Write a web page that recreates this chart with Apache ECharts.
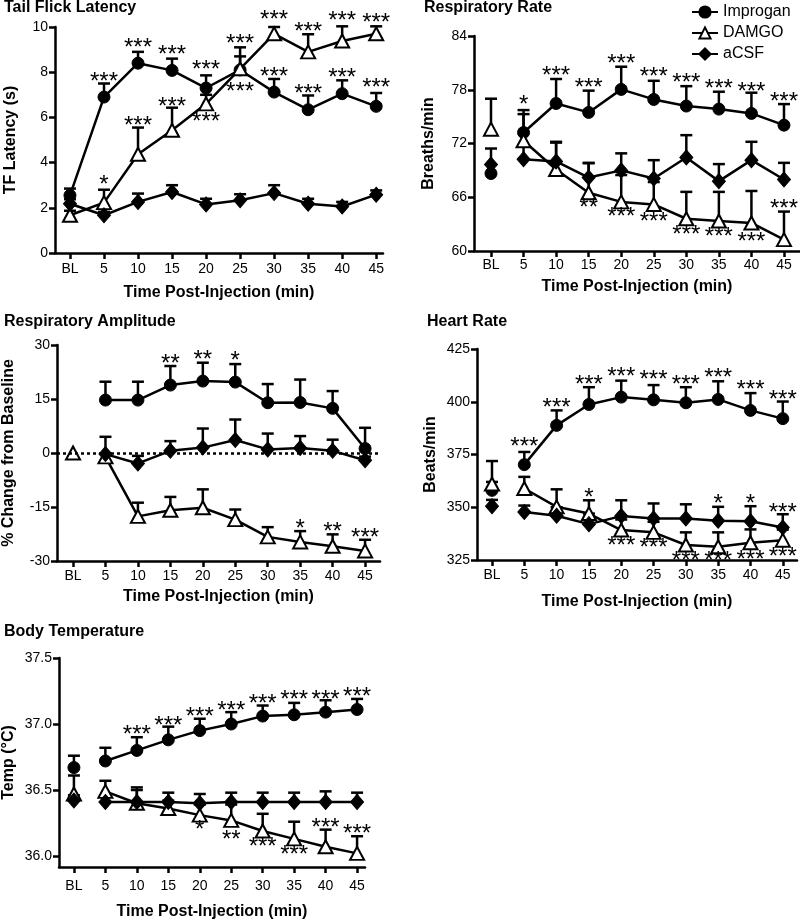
<!DOCTYPE html>
<html><head><meta charset="utf-8">
<script src="https://cdn.jsdelivr.net/npm/echarts@6/dist/echarts.min.js"></script>
<style>html,body{margin:0;padding:0;background:#fff}#c{width:800px;height:921px}</style>
</head><body><div id="c"></div>
<script>
// ---------- data ----------
const xLabels = ['BL','5','10','15','20','25','30','35','40','45'];
const xValues = [0,5,10,15,20,25,30,35,40,45];
const seriesNames = ['Improgan','DAMGO','aCSF'];

// Tail flick latency (s)
const tfTicks = [0,2,4,6,8,10];
const tfImprogan    = [2.55,6.9,8.4,8.08,7.3,8.1,7.12,6.34,7.05,6.49];
const tfImproganSem = [0.3,0.6,0.5,0.52,0.56,0.6,0.58,0.63,0.59,0.59];
const tfDamgo       = [1.67,2.23,4.37,5.43,6.6,8.15,9.7,8.9,9.38,9.7];
const tfDamgoSem    = [0.2,0.57,1.18,1.0,0.4,0.95,0.3,0.78,0.65,0.33];
const tfAcsf        = [2.18,1.67,2.26,2.7,2.15,2.33,2.65,2.18,2.06,2.58];
const tfAcsfSem     = [0.2,0.15,0.37,0.3,0.25,0.27,0.35,0.22,0.2,0.19];
const tfStars = [[5,7.76,'***'],[10,9.26,'***'],[15,8.97,'***'],[20,8.3,'***'],[25,9.44,'***'],[25,7.32,'***'],
  [30,8.0,'***'],[30,10.5,'***'],[35,7.23,'***'],[35,10.0,'***'],[40,7.96,'***'],[40,10.47,'***'],
  [45,7.49,'***'],[45,10.37,'***'],[5,3.2,'*'],[10,5.84,'***'],[15,6.68,'***'],[20,6.02,'***']];

// Respiratory rate (breaths/min)
const rrTicks = [60,66,72,78,84];
const rrImprogan    = [68.65,73.23,76.47,75.47,78.04,76.92,76.18,75.84,75.36,74.05];
const rrImproganSem = [1.0,2.05,2.73,2.43,2.53,2.08,2.22,1.94,2.31,2.35];
const rrDamgo       = [73.6,72.3,69.1,66.5,65.48,65.2,63.6,63.35,63.13,61.27];
const rrDamgoSem    = [3.4,3.43,3.0,3.3,3.0,2.5,3.0,3.25,3.57,3.13];
const rrAcsf        = [69.65,70.25,70.0,68.2,69.0,68.09,70.44,67.8,70.14,67.98];
const rrAcsfSem     = [1.79,1.5,2.19,1.64,1.9,2.05,2.49,1.9,2.05,1.86];
const rrStars = [[5,76.85,'*'],[10,80.0,'***'],[15,78.7,'***'],[20,81.4,'***'],[25,79.9,'***'],[30,79.27,'***'],
  [35,78.6,'***'],[40,78.3,'***'],[45,77.15,'***'],[15,65.3,'**'],[20,64.36,'***'],[25,63.8,'***'],
  [30,62.3,'***'],[35,62.05,'***'],[40,61.5,'***'],[45,65.2,'***']];

// Respiratory amplitude (% change from baseline)
const raTicks = [-30,-15,0,15,30];
const raImprogan    = [null,14.7,14.7,18.87,19.98,19.7,13.95,14.04,12.4,1.24];
const raImproganSem = [null,5.1,5.1,5.29,5.1,5.0,5.2,6.36,4.8,5.76];
const raDamgo       = [0,-1.08,-17.6,-15.9,-15.2,-18.5,-23.3,-24.7,-25.9,-27.2];
const raDamgoSem    = [0,1.0,3.8,3.7,5.1,2.8,2.7,3.0,3.3,3.1];
const raAcsf        = [null,-0.3,-2.9,0.6,1.5,3.6,1.0,1.4,0.6,-2.0];
const raAcsfSem     = [null,4.8,2.1,2.7,5.3,5.7,4.4,3.3,3.1,1.0];
const raStars = [[15,26.0,'**'],[20,27.2,'**'],[25,26.75,'*'],[35,-19.8,'*'],[40,-20.6,'**'],[45,-22.2,'***']];

// Heart rate (beats/min)
const hrTicks = [325,350,375,400,425];
const hrImprogan    = [358,370.2,388.8,398.7,402.2,400.9,399.5,401.1,395.9,392.0];
const hrImproganSem = [4,6.0,7.1,8.2,7.8,7.0,7.4,8.6,8.2,8.1];
const hrDamgo       = [361,358.9,350.2,347.0,339.2,338.1,332.1,331.3,333.2,334.4];
const hrDamgoSem    = [10.9,5.5,8.3,6.3,5,5,6.0,6.8,6.3,5];
const hrAcsf        = [350.5,347.8,346.0,342.0,345.8,344.7,344.7,343.6,343.4,340.4];
const hrAcsfSem     = [3,3,4,5,7.5,7.1,6.7,6.6,7.1,6.3];
const hrStars = [[5,380.9,'***'],[10,399.3,'***'],[15,410.0,'***'],[20,414.0,'***'],[25,412.4,'***'],
  [30,410.0,'***'],[35,413.5,'***'],[40,407.7,'***'],[45,403.0,'***'],[15,356.8,'*'],[35,353.7,'*'],
  [40,353.7,'*'],[45,349.4,'***'],[20,333.7,'***'],[25,332.9,'***'],[30,326.9,'***'],[35,326.6,'***'],
  [40,327.4,'***'],[45,328.6,'***']];

// Body temperature (°C)
const btTicks = [36.0,36.5,37.0,37.5];
const btImprogan    = [36.67,36.72,36.80,36.88,36.95,37.0,37.06,37.07,37.09,37.11];
const btImproganSem = [0.09,0.1,0.1,0.1,0.09,0.09,0.08,0.09,0.09,0.08];
const btDamgo       = [36.47,36.49,36.40,36.36,36.31,36.27,36.19,36.13,36.07,36.02];
const btDamgoSem    = [0.14,0.08,0.12,0.06,0.08,0.12,0.13,0.13,0.13,0.13];
const btAcsf        = [36.42,36.41,36.41,36.41,36.40,36.41,36.41,36.41,36.41,36.41];
const btAcsfSem     = [0.04,0.05,0.09,0.07,0.07,0.07,0.07,0.07,0.08,0.07];
const btStars = [[10,36.95,'***'],[15,37.02,'***'],[20,37.09,'***'],[25,37.13,'***'],[30,37.19,'***'],
  [35,37.22,'***'],[40,37.22,'***'],[45,37.24,'***'],[20,36.23,'*'],[25,36.16,'**'],[30,36.1,'***'],
  [35,36.04,'***'],[40,36.25,'***'],[45,36.2,'***']];

// ---------- layout ----------
const FONT = '"Liberation Sans", Arial, Helvetica, sans-serif';
const panels = [
  {title:'Tail Flick Latency', yName:'TF Latency (s)', titlePos:[4,0],
   grid:{left:55,top:27,width:328,height:226}, xr:[-2.2,46.0], yr:[0,10], ticks:tfTicks, dec:0,
   groups:[[tfImprogan,tfImproganSem],[tfDamgo,tfDamgoSem],[tfAcsf,tfAcsfSem]], stars:tfStars,
   connectBL:true, nameGapX:32, nameGapY:36, labelMarginX:9},
  {title:'Respiratory Rate', yName:'Breaths/min', titlePos:[424,0],
   grid:{left:474,top:36,width:326,height:215}, xr:[-2.61,47.46], yr:[60,84], ticks:rrTicks, dec:0,
   groups:[[rrImprogan,rrImproganSem],[rrDamgo,rrDamgoSem],[rrAcsf,rrAcsfSem]], stars:rrStars,
   connectBL:false, nameGapX:28, nameGapY:37, labelMarginX:7},
  {title:'Respiratory Amplitude', yName:'% Change from Baseline', titlePos:[4,314],
   grid:{left:57,top:345,width:323,height:216}, xr:[-2.47,47.3], yr:[-30,30], ticks:raTicks, dec:0,
   groups:[[raImprogan,raImproganSem],[raDamgo,raDamgoSem],[raAcsf,raAcsfSem]], stars:raStars,
   connectBL:false, nameGapX:28, nameGapY:40, labelMarginX:8, zeroLine:true},
  {title:'Heart Rate', yName:'Beats/min', titlePos:[427,314],
   grid:{left:477,top:349,width:320,height:211}, xr:[-2.32,47.2], yr:[325,425], ticks:hrTicks, dec:0,
   groups:[[hrImprogan,hrImproganSem],[hrDamgo,hrDamgoSem],[hrAcsf,hrAcsfSem]], stars:hrStars,
   connectBL:false, nameGapX:34, nameGapY:38, labelMarginX:8},
  {title:'Body Temperature', yName:'Temp (°C)', titlePos:[4,624],
   grid:{left:57,top:658,width:308,height:210}, xr:[-2.37,46.26], yr:[35.917,37.5], ticks:btTicks, dec:1,
   groups:[[btImprogan,btImproganSem],[btDamgo,btDamgoSem],[btAcsf,btAcsfSem]], stars:btStars,
   connectBL:false, nameGapX:37, nameGapY:42, labelMarginX:12}
];

const symbols = [
  {symbol:'circle', size:12, itemStyle:{color:'#000', borderColor:'#000', borderWidth:1, opacity:1}},
  {symbol:'triangle', size:[14,13], itemStyle:{color:'#fff', borderColor:'#000', borderWidth:2, opacity:1}},
  {symbol:'diamond', size:[13,15], itemStyle:{color:'#000', borderColor:'#000', borderWidth:1, opacity:1}}
];

const LW = 2.5;
const option = {
  animation:false,
  backgroundColor:'#fff',
  title: panels.map(p => ({text:p.title, left:p.titlePos[0], top:p.titlePos[1], padding:0,
    textStyle:{fontSize:16, fontWeight:'bold', fontFamily:FONT, color:'#000'}})),
  legend:{orient:'vertical', left:686, top:-1, itemWidth:26, itemHeight:14, itemGap:5,
    data:seriesNames, textStyle:{fontSize:16, fontFamily:FONT, color:'#000'}},
  grid: panels.map(p => p.grid),
  xAxis: panels.map((p,i) => ({type:'value', gridIndex:i, min:p.xr[0], max:p.xr[1],
    name:'Time Post-Injection (min)', nameLocation:'middle', nameGap:p.nameGapX,
    nameTextStyle:{fontSize:16, fontWeight:'bold', fontFamily:FONT, color:'#000'},
    splitLine:{show:false},
    axisLine:{show:true, onZero:false, lineStyle:{color:'#000', width:LW}},
    axisTick:{show:true, length:6, customValues:xValues, lineStyle:{color:'#000', width:LW}},
    axisLabel:{customValues:xValues, margin:p.labelMarginX, fontSize:14, fontFamily:FONT, color:'#000',
      formatter:v => { const k = xValues.indexOf(v); return k >= 0 ? xLabels[k] : ''; }}})),
  yAxis: panels.map((p,i) => ({type:'value', gridIndex:i, min:p.yr[0], max:p.yr[1],
    name:p.yName, nameLocation:'middle', nameGap:p.nameGapY,
    nameTextStyle:{fontSize:16, fontWeight:'bold', fontFamily:FONT, color:'#000'},
    splitLine:{show:false},
    axisLine:{show:true, onZero:false, lineStyle:{color:'#000', width:LW}},
    axisTick:{show:true, length:6, customValues:p.ticks, lineStyle:{color:'#000', width:LW}},
    axisLabel:{customValues:p.ticks, margin:7, fontSize:14, fontFamily:FONT, color:'#000',
      formatter:v => v.toFixed(p.dec)}})),
  series:[]
};

panels.forEach((p, pi) => {
  p.groups.forEach((g, gi) => {
    const [means, sems] = g;
    const errData = [];
    means.forEach((m, k) => { if (m != null && sems[k]) errData.push([xValues[k], m, m + sems[k]]); });
    option.series.push({type:'custom', name:seriesNames[gi]+' SEM', xAxisIndex:pi, yAxisIndex:pi, z:2,
      silent:true, data:errData, encode:{x:0, y:[1,2]},
      renderItem:(params, api) => {
        const a = api.coord([api.value(0), api.value(1)]);
        const b = api.coord([api.value(0), api.value(2)]);
        return {type:'group', children:[
          {type:'line', shape:{x1:a[0], y1:a[1], x2:b[0], y2:b[1]}, style:{stroke:'#000', lineWidth:LW}},
          {type:'line', shape:{x1:b[0]-6, y1:b[1], x2:b[0]+6, y2:b[1]}, style:{stroke:'#000', lineWidth:LW}}
        ]};
      }});
  });
  p.groups.forEach((g, gi) => {
    const [means] = g;
    const sym = symbols[gi];
    const pts = means.map((m, k) => [xValues[k], m]);
    const lineData = (p.connectBL ? pts : pts.slice(1)).filter(d => d[1] != null);
    const s = {type:'line', name:seriesNames[gi], xAxisIndex:pi, yAxisIndex:pi, z:3,
      data:lineData, symbol:sym.symbol, symbolSize:sym.size, showSymbol:true, showAllSymbol:true,
      itemStyle:sym.itemStyle, lineStyle:{color:'#000', width:LW}, emphasis:{disabled:true}, silent:true};
    if (p.zeroLine && gi === 0) {
      s.markLine = {silent:true, symbol:'none', label:{show:false}, animation:false,
        lineStyle:{type:[3,3], color:'#000', width:2.5}, data:[{yAxis:0}]};
    }
    option.series.push(s);
    if (!p.connectBL && means[0] != null) {
      option.series.push({type:'scatter', name:seriesNames[gi], xAxisIndex:pi, yAxisIndex:pi, z:3,
        data:[[xValues[0], means[0]]], symbol:sym.symbol, symbolSize:sym.size,
        itemStyle:sym.itemStyle, emphasis:{disabled:true}, silent:true});
    }
  });
  const stars = p.stars;
  option.series.push({type:'custom', name:'sig'+pi, xAxisIndex:pi, yAxisIndex:pi, z:5, silent:true,
    data:stars.map(s => [s[0], s[1]]), encode:{x:0, y:1},
    renderItem:(params, api) => {
      const c = api.coord([api.value(0), api.value(1)]);
      return {type:'text', x:c[0], y:c[1] + 5,
        style:{text:stars[params.dataIndex][2], fill:'#000', font:'24px ' + FONT,
          textAlign:'center', textVerticalAlign:'middle'}};
    }});
});

const chart = echarts.init(document.getElementById('c'), null, {renderer:'canvas'});
chart.setOption(option);
</script>
</body></html>
